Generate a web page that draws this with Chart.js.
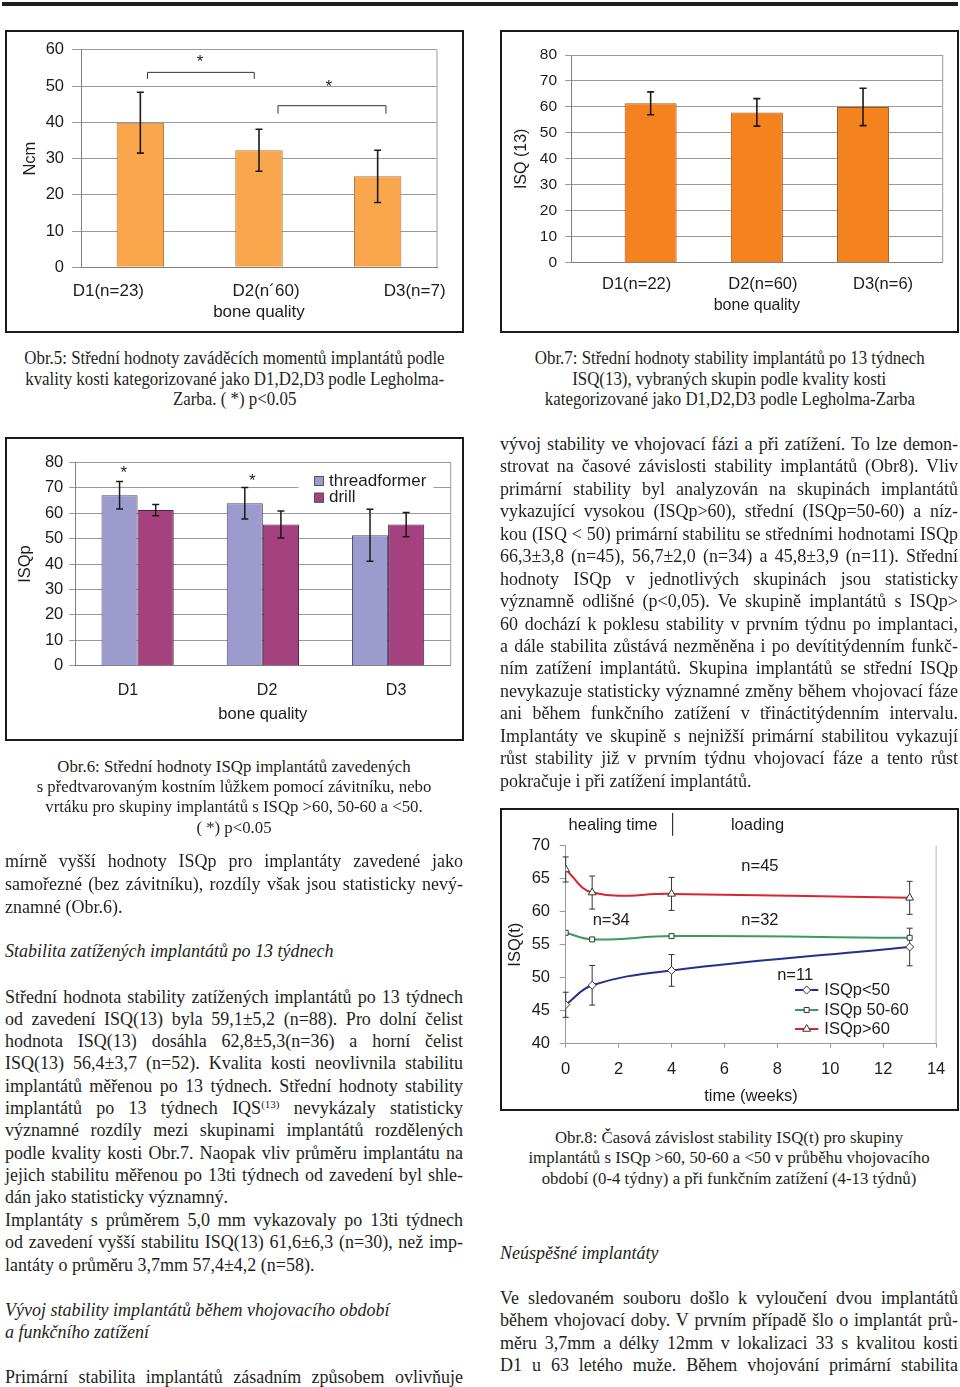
<!DOCTYPE html>
<html><head><meta charset="utf-8">
<script src="https://cdn.jsdelivr.net/npm/chart.js@4.4.1/dist/chart.umd.min.js"></script>
<style>
html,body{margin:0;padding:0;background:#fff;}
body{width:960px;height:1387px;position:relative;overflow:hidden;font-family:'Liberation Serif','Times New Roman',serif;color:#231f20;}
.rule{position:absolute;left:2px;top:2px;width:956px;height:4px;background:#1e1e1e;}
.box{position:absolute;border:2px solid #1a1a1a;background:#fff;box-sizing:border-box;}
.box canvas{position:absolute;left:0;top:0;}
.ln{position:absolute;white-space:nowrap;font-size:18px;line-height:22px;height:22px;}
.ln sup{font-size:11px;vertical-align:6px;line-height:0;}
.it{font-style:italic;}
.cap{font-size:16.8px;line-height:20px;height:20px;text-align:center;}
.cond{font-size:18.5px;line-height:20px;height:20px;text-align:center;}
.cond span{display:inline-block;transform:scaleX(0.912);}
</style>
</head>
<body>
<div class="rule"></div>
<div class="box" style="left:5px;top:30px;width:459px;height:303px;"><canvas id="c1" width="455" height="299"></canvas></div>
<div class="box" style="left:500px;top:30px;width:459px;height:303px;"><canvas id="c2" width="455" height="299"></canvas></div>
<div class="box" style="left:5px;top:437px;width:459px;height:304px;"><canvas id="c3" width="455" height="300"></canvas></div>
<div class="box" style="left:500px;top:808px;width:459px;height:303px;"><canvas id="c4" width="455" height="299"></canvas></div>
<script>
// ---------- DATA ----------
// Obr.5 insertion torque
const torqueCategories = ['D1(n=23)', 'D2(n´60)', 'D3(n=7)'];
const torqueMeans = [39.9, 32.3, 25.1];
const torqueErrors = [8.4, 5.8, 7.2];
const torqueAxisTitle = 'Ncm';
const torqueTicks = [0, 60, 10];
const torqueBracketFrom = [0.06, 1.16];
const torqueBracketTo = [0.96, 2.07];
const torqueBracketTop = [53.8, 44.6];
const torqueBracketLeg = [52.0, 42.4];
const torqueStarX = [0.503, 1.589];
const torqueStarY = [58.0, 51.1];

// Obr.7 ISQ(13)
const isq13Categories = ['D1(n=22)', 'D2(n=60)', 'D3(n=6)'];
const isq13Means = [61.4, 57.9, 60.0];
const isq13Errors = [4.4, 5.3, 7.2];
const isq13Ticks = [0, 80, 10];

// Obr.6 ISQp threadformer vs drill
const isqpCategories = ['D1', 'D2', 'D3'];
const seriesNames = ['threadformer', 'drill'];
const threadformerMeans = [67.0, 63.9, 51.3];
const threadformerErrors = [5.4, 6.2, 10.2];
const drillMeans = [61.2, 55.5, 55.5];
const drillErrors = [2.2, 5.3, 4.8];
const isqpStarX = [-0.11, 0.916];
const isqpStarY = [77.7, 74.4];

// Obr.8 ISQ(t)
const weeks = [0, 1, 4, 13];
const lineNames = ['ISQp<50', 'ISQp 50-60', 'ISQp>60'];
const isqLow = [45.9, 48.85, 51.1, 54.65];
const isqLowErr = [1.9, 3.0, 2.4, 2.85];
const isqMid = [56.8, 55.8, 56.3, 56.05];
const isqMidErr = [null, null, null, null];
const isqHigh = [66.4, 62.9, 62.7, 62.1];
const isqHighErr = [1.9, 2.5, 2.5, 2.5];
const noteTexts = ['healing time', 'loading', 'n=45', 'n=34', 'n=32', 'n=11'];
const noteX = [1.79, 7.25, 7.34, 1.72, 7.34, 8.67];
const noteY = [73.14, 73.14, 66.9, 58.6, 58.6, 50.4];
const dividerX = 4.04;
const dividerY = [71.5, 74.96];

// ---------- STYLE ----------
const SANS = "'Liberation Sans', Arial, sans-serif";
Chart.defaults.font.family = SANS;
Chart.defaults.color = '#1c1c1c';
Chart.defaults.animation = false;

function drawErrorBars(chart, o) {
  const ctx = chart.ctx, y = chart.scales.y;
  ctx.save(); ctx.strokeStyle = o.color; ctx.lineWidth = o.width;
  chart.data.datasets.forEach((ds, i) => {
    if (!ds.errors) return;
    chart.getDatasetMeta(i).data.forEach((el, j) => {
      const e = ds.errors[j]; if (e == null) return;
      const raw = ds.data[j]; const v = (typeof raw === 'object') ? raw.y : raw;
      const t = y.getPixelForValue(v + e), b = y.getPixelForValue(v - e);
      ctx.beginPath();
      ctx.moveTo(el.x, t); ctx.lineTo(el.x, b);
      ctx.moveTo(el.x - o.cap, t); ctx.lineTo(el.x + o.cap, t);
      ctx.moveTo(el.x - o.cap, b); ctx.lineTo(el.x + o.cap, b);
      ctx.stroke();
    });
  });
  ctx.restore();
}
const errorBars = {
  id: 'errorBars',
  beforeDatasetsDraw(c, a, o) { if (o.under) drawErrorBars(c, o); },
  afterDatasetsDraw(c, a, o) { if (!o.under) drawErrorBars(c, o); }
};
const xLabels = {
  id: 'xLabels',
  afterDraw(chart, a, o) {
    const ctx = chart.ctx, xs = chart.scales.x, ys = chart.scales.y;
    ctx.save(); ctx.font = o.font; ctx.fillStyle = o.color;
    ctx.textAlign = 'center'; ctx.textBaseline = 'middle';
    o.labels.forEach((lab, i) => ctx.fillText(lab, xs.getPixelForValue(i) + o.dx[i], ys.bottom + o.dy));
    ctx.restore();
  }
};
const frame = {
  id: 'frame',
  beforeDatasetsDraw(chart, a, o) {
    const {left, right, top, bottom} = chart.chartArea, ctx = chart.ctx;
    ctx.save(); ctx.strokeStyle = o.color; ctx.lineWidth = 1; ctx.beginPath();
    if (o.right) { ctx.moveTo(right, top); ctx.lineTo(right, bottom); }
    if (o.top) { ctx.moveTo(left, top); ctx.lineTo(right, top); }
    ctx.stroke(); ctx.restore();
  }
};
const stars = {
  id: 'stars',
  afterDraw(chart, a, o) {
    const ctx = chart.ctx, xs = chart.scales.x, ys = chart.scales.y;
    ctx.save(); ctx.font = o.size + 'px ' + SANS; ctx.fillStyle = '#1c1c1c';
    ctx.textAlign = 'center'; ctx.textBaseline = 'alphabetic';
    o.x.forEach((xv, i) => ctx.fillText('*', xs.getPixelForValue(xv), ys.getPixelForValue(o.y[i]) + 0.58 * o.size));
    ctx.restore();
  }
};
const brackets = {
  id: 'brackets',
  afterDraw(chart, a, o) {
    const ctx = chart.ctx, xs = chart.scales.x, ys = chart.scales.y;
    ctx.save(); ctx.strokeStyle = '#333'; ctx.lineWidth = 1;
    o.from.forEach((f, i) => {
      const x0 = xs.getPixelForValue(f), x1 = xs.getPixelForValue(o.to[i]);
      const yt = ys.getPixelForValue(o.top[i]), yl = ys.getPixelForValue(o.leg[i]);
      ctx.beginPath(); ctx.moveTo(x0, yl); ctx.lineTo(x0, yt); ctx.lineTo(x1, yt); ctx.lineTo(x1, yl); ctx.stroke();
    });
    ctx.restore();
  }
};
const boxLegend = {
  id: 'boxLegend',
  afterDraw(chart, a, o) {
    const ctx = chart.ctx;
    ctx.save();
    ctx.fillStyle = '#fff'; ctx.fillRect(o.clear[0], o.clear[1], o.clear[2], o.clear[3]);
    ctx.font = o.size + 'px ' + SANS; ctx.textBaseline = 'middle'; ctx.textAlign = 'left';
    chart.data.datasets.forEach((ds, i) => {
      const y = o.rows[i];
      ctx.fillStyle = ds.backgroundColor; ctx.strokeStyle = '#555'; ctx.lineWidth = 1;
      ctx.fillRect(o.sx, y - 5, 10, 10); ctx.strokeRect(o.sx + 0.5, y - 4.5, 9, 9);
      ctx.fillStyle = '#1c1c1c'; ctx.fillText(ds.label, o.tx, y);
    });
    ctx.restore();
  }
};
const lineLegend = {
  id: 'lineLegend',
  afterDraw(chart, a, o) {
    const ctx = chart.ctx;
    ctx.save(); ctx.font = o.size + 'px ' + SANS; ctx.textBaseline = 'middle'; ctx.textAlign = 'left';
    chart.data.datasets.forEach((ds, i) => {
      const y = o.rows[i];
      ctx.strokeStyle = ds.borderColor; ctx.lineWidth = 2;
      ctx.beginPath(); ctx.moveTo(o.x0, y); ctx.lineTo(o.x1, y); ctx.stroke();
      ctx.fillStyle = '#fff'; ctx.strokeStyle = '#333'; ctx.lineWidth = 1;
      Chart.helpers.drawPoint(ctx, {pointStyle: ds.pointStyle, radius: ds.pointRadius, rotation: 0, borderWidth: 1}, (o.x0 + o.x1) / 2, y);
      ctx.fillStyle = '#1c1c1c'; ctx.fillText(ds.label, o.tx, y);
    });
    ctx.restore();
  }
};
const notes = {
  id: 'notes',
  afterDraw(chart, a, o) {
    const ctx = chart.ctx, xs = chart.scales.x, ys = chart.scales.y;
    ctx.save(); ctx.font = o.size + 'px ' + SANS; ctx.fillStyle = '#1c1c1c';
    ctx.textAlign = 'center'; ctx.textBaseline = 'middle';
    o.texts.forEach((t, i) => ctx.fillText(t, xs.getPixelForValue(o.x[i]), ys.getPixelForValue(o.y[i])));
    ctx.strokeStyle = '#333'; ctx.lineWidth = 1.2; ctx.beginPath();
    const dx = xs.getPixelForValue(o.divX);
    ctx.moveTo(dx, ys.getPixelForValue(o.divY[0])); ctx.lineTo(dx, ys.getPixelForValue(o.divY[1])); ctx.stroke();
    ctx.restore();
  }
};

const GRID = '#9a9a9a', AXIS = '#808080';

// ---------- Obr.5 ----------
new Chart(document.getElementById('c1'), {
  type: 'bar',
  data: { labels: torqueCategories, datasets: [{
    data: torqueMeans, errors: torqueErrors,
    backgroundColor: '#F9A64C', borderColor: '#A8733C', borderWidth: 1,
    barPercentage: 0.4, categoryPercentage: 1 }] },
  options: {
    responsive: false, animation: false,
    layout: { padding: { top: 17.3, right: 25, left: 0, bottom: 0 } },
    plugins: {
      legend: { display: false }, tooltip: { enabled: false },
      errorBars: { color: '#1a1a1a', width: 1.6, cap: 3.5 },
      xLabels: { labels: torqueCategories, dx: [-32, 7, 37], dy: 23.7, font: '17px ' + SANS, color: '#1c1c1c' },
      frame: { color: GRID, right: true },
      stars: { x: torqueStarX, y: torqueStarY, size: 17 },
      brackets: { from: torqueBracketFrom, to: torqueBracketTo, top: torqueBracketTop, leg: torqueBracketLeg }
    },
    scales: {
      x: { grid: { display: false }, border: { color: AXIS }, ticks: { display: false },
           title: { display: true, text: 'bone quality', font: { size: 17 }, padding: { top: 0, bottom: 8.8 } },
           afterFit: s => { s.height = 63.7; } },
      y: { min: torqueTicks[0], max: torqueTicks[1], ticks: { stepSize: torqueTicks[2], font: { size: 16.5 }, padding: 8 },
           grid: { color: GRID, tickLength: 9 }, border: { color: AXIS },
           title: { display: true, text: torqueAxisTitle, font: { size: 16.5 }, padding: { top: 13.1, bottom: 0 } },
           afterFit: s => { s.width = 74; } }
    }
  },
  plugins: [frame, errorBars, xLabels, stars, brackets]
});

// ---------- Obr.7 ----------
new Chart(document.getElementById('c2'), {
  type: 'bar',
  data: { datasets: [{
    data: isq13Means.map((v, i) => ({ x: i, y: v })), errors: isq13Errors,
    backgroundColor: '#F4821F', borderColor: '#A5561B', borderWidth: 1,
    barPercentage: 0.49, categoryPercentage: 1 }] },
  options: {
    responsive: false, animation: false,
    layout: { padding: { top: 23, right: 14.3, left: 0, bottom: 0 } },
    plugins: {
      legend: { display: false }, tooltip: { enabled: false },
      errorBars: { color: '#1a1a1a', width: 1.6, cap: 3.5 },
      xLabels: { labels: isq13Categories, dx: [-14, 6, 20], dy: 21.3, font: '16.5px ' + SANS, color: '#1c1c1c' },
      frame: { color: GRID, right: true }
    },
    scales: {
      x: { type: 'linear', offset: false, min: -0.75, max: 2.75, grid: { display: false }, border: { color: AXIS }, ticks: { display: false },
           afterBuildTicks: s => { s.ticks = isq13Categories.map((c, i) => ({ value: i })); },
           title: { display: true, text: 'bone quality', font: { size: 16 }, padding: { top: 0, bottom: 15.4 } },
           afterFit: s => { s.height = 68.3; } },
      y: { min: isq13Ticks[0], max: isq13Ticks[1], ticks: { stepSize: isq13Ticks[2], font: { size: 15.5 }, padding: 8 },
           grid: { color: GRID, tickLength: 6 }, border: { color: AXIS },
           title: { display: true, text: 'ISQ (13)', font: { size: 16 }, padding: { top: 10.1, bottom: 0 } },
           afterFit: s => { s.width = 69; } }
    }
  },
  plugins: [frame, errorBars, xLabels]
});

// ---------- Obr.6 ----------
new Chart(document.getElementById('c3'), {
  type: 'bar',
  data: { labels: isqpCategories, datasets: [
    { label: seriesNames[0], data: threadformerMeans, errors: threadformerErrors,
      backgroundColor: '#9D9BCE', borderColor: '#4f4568', borderWidth: 1, barPercentage: 1, categoryPercentage: 0.577 },
    { label: seriesNames[1], data: drillMeans, errors: drillErrors,
      backgroundColor: '#A5417E', borderColor: '#4f2340', borderWidth: 1, barPercentage: 1, categoryPercentage: 0.577 }
  ] },
  options: {
    responsive: false, animation: false,
    layout: { padding: { top: 23.3, right: 11.3, left: 0, bottom: 0 } },
    plugins: {
      legend: { display: false }, tooltip: { enabled: false },
      errorBars: { color: '#1a1a1a', width: 1.5, cap: 3.5 },
      xLabels: { labels: isqpCategories, dx: [-9.6, 4.2, 8], dy: 25.3, font: '16px ' + SANS, color: '#1c1c1c' },
      frame: { color: GRID, right: true },
      stars: { x: isqpStarX, y: isqpStarY, size: 17 },
      boxLegend: { clear: [291.5, 30, 135, 38], sx: 307, tx: 322, rows: [42, 58.7], size: 17 }
    },
    scales: {
      x: { grid: { display: false }, border: { color: AXIS }, ticks: { display: false },
           title: { display: true, text: 'bone quality', font: { size: 16.5 }, padding: { top: 0, bottom: 15.1 } },
           afterFit: s => { s.height = 73.3; } },
      y: { min: 0, max: 80, ticks: { stepSize: 10, font: { size: 16.5 }, padding: 5.7 },
           grid: { color: GRID, tickLength: 6 }, border: { color: AXIS },
           title: { display: true, text: 'ISQp', font: { size: 16.5 }, padding: { top: 8.9, bottom: 0 } },
           afterFit: s => { s.width = 68; } }
    }
  },
  plugins: [frame, errorBars, xLabels, stars, boxLegend]
});

// ---------- Obr.8 ----------
function pts(arr) { return weeks.map((w, i) => ({ x: w, y: arr[i] })); }
const lineCommon = { borderWidth: 2, tension: 0.4, fill: false, pointBackgroundColor: '#fff', pointBorderColor: '#333', pointBorderWidth: 1 };
new Chart(document.getElementById('c4'), {
  type: 'line',
  data: { datasets: [
    Object.assign({ label: lineNames[0], data: pts(isqLow), errors: isqLowErr, borderColor: '#22318F', pointStyle: 'rectRot', pointRadius: 4 }, lineCommon),
    Object.assign({ label: lineNames[1], data: pts(isqMid), errors: isqMidErr, borderColor: '#3C9B5C', pointStyle: 'rect', pointRadius: 3.5 }, lineCommon),
    Object.assign({ label: lineNames[2], data: pts(isqHigh), errors: isqHighErr, borderColor: '#D9262E', pointStyle: 'triangle', pointRadius: 4.5 }, lineCommon)
  ] },
  options: {
    responsive: false, animation: false,
    layout: { padding: { top: 35.7, right: 11.3, left: 0, bottom: 0 } },
    plugins: {
      legend: { display: false }, tooltip: { enabled: false },
      errorBars: { color: '#333', width: 1, cap: 3, under: true },
      frame: { color: '#b5b5b5', right: true },
      lineLegend: { x0: 293, x1: 316.3, tx: 322.3, rows: [180, 200, 219], size: 16.5 },
      notes: { texts: noteTexts, x: noteX, y: noteY, size: 16.5, divX: dividerX, divY: dividerY }
    },
    scales: {
      x: { type: 'linear', min: 0, max: 14, ticks: { stepSize: 2, font: { size: 16.5 }, padding: 11.7 },
           grid: { drawOnChartArea: false, tickLength: 4, color: '#999' }, border: { color: '#999' },
           title: { display: true, text: 'time (weeks)', font: { size: 16.5 }, padding: { top: 0, bottom: 3.1 } },
           afterFit: s => { s.height = 65.3; } },
      y: { min: 40, max: 70, ticks: { stepSize: 5, font: { size: 16.5 }, padding: 9.7 },
           grid: { drawOnChartArea: false, tickLength: 6, color: '#999' }, border: { color: '#999' },
           title: { display: true, text: 'ISQ(t)', font: { size: 16.5 }, padding: { top: 3.1, bottom: 0 } },
           afterFit: s => { s.width = 63.7; } }
    }
  },
  plugins: [frame, errorBars, lineLegend, notes]
});

// ---------- TEXT ----------
function addLine(txt, x, yc, o) {
  const d = document.createElement('div');
  d.className = 'ln ' + (o.cls || '');
  d.style.left = x + 'px'; d.style.top = (yc - o.off) + 'px';
  if (o.w) d.style.width = o.w + 'px';
  const s = document.createElement('span');
  txt.split('^').forEach((part, k) => {
    if (k % 2) { const sup = document.createElement('sup'); sup.textContent = part; s.appendChild(sup); }
    else s.appendChild(document.createTextNode(part));
  });
  d.appendChild(s); document.body.appendChild(d);
  if (o.justify) {
    const n = (s.textContent.trim().replace(/\s+/g, ' ').match(/ /g) || []).length;
    const nat = s.getBoundingClientRect().width;
    if (n) s.style.wordSpacing = ((o.w - nat) / n) + 'px';
  }
}
function column(x, lines) {
  lines.forEach(l => addLine(l[0], x, l[1], { off: 11, w: 458, justify: l[2] === 1, cls: l[2] === 2 ? 'it' : '' }));
}
function caption(cx, lines, cls, off) {
  lines.forEach(l => addLine(l[0], cx - 350, l[1], { off: off, w: 700, cls: cls }));
}
caption(234.5, [
  ['Obr.5: Střední hodnoty zaváděcích momentů implantátů podle', 358],
  ['kvality kosti kategorizované jako D1,D2,D3 podle Legholma-', 379],
  ['Zarba. ( *) p<0.05', 399]], 'cond', 10);
caption(729.5, [
  ['Obr.7: Střední hodnoty stability implantátů po 13 týdnech', 358],
  ['ISQ(13), vybraných skupin  podle kvality kosti', 379],
  ['kategorizované jako D1,D2,D3 podle Legholma-Zarba', 399]], 'cond', 10);
caption(234, [
  ['Obr.6: Střední hodnoty ISQp implantátů zavedených', 767],
  ['s předtvarovaným kostním lůžkem pomocí závitníku, nebo', 787],
  ['vrtáku pro skupiny implantátů s ISQp >60, 50-60 a <50.', 807],
  ['( *) p<0.05', 828]], 'cap', 10);
caption(729, [
  ['Obr.8: Časová závislost stability ISQ(t) pro skupiny', 1137],
  ['implantátů s ISQp >60, 50-60 a <50 v průběhu vhojovacího', 1157],
  ['období (0-4 týdny) a při funkčním zatížení (4-13 týdnů)', 1178]], 'cap', 9.5);

column(5, [
  ['mírně vyšší hodnoty ISQp pro implantáty zavedené jako', 861, 1],
  ['samořezné (bez závitníku), rozdíly však jsou statisticky nevý-', 884, 1],
  ['znamné (Obr.6).', 907, 0],
  ['Stabilita zatížených  implantátů po 13 týdnech', 951, 2],
  ['Střední hodnota stability zatížených implantátů po 13 týdnech', 997, 1],
  ['od zavedení ISQ(13) byla 59,1±5,2 (n=88). Pro dolní čelist', 1019, 1],
  ['hodnota ISQ(13) dosáhla 62,8±5,3(n=36) a horní čelist', 1041, 1],
  ['ISQ(13) 56,4±3,7 (n=52). Kvalita kosti neovlivnila stabilitu', 1063, 1],
  ['implantátů měřenou po 13 týdnech. Střední hodnoty stability', 1086, 1],
  ['implantátů po 13 týdnech IQS^(13)^ nevykázaly statisticky', 1108, 1],
  ['významné rozdíly mezi skupinami implantátů rozdělených', 1130, 1],
  ['podle kvality kosti Obr.7. Naopak vliv průměru implantátu na', 1153, 1],
  ['jejich stabilitu měřenou po 13ti týdnech od zavedení byl shle-', 1175, 1],
  ['dán jako statisticky významný.', 1197, 0],
  ['Implantáty s průměrem 5,0 mm vykazovaly po 13ti týdnech', 1220, 1],
  ['od zavedení vyšší stabilitu ISQ(13) 61,6±6,3 (n=30), než imp-', 1242, 1],
  ['lantáty o průměru 3,7mm 57,4±4,2  (n=58).', 1265, 0],
  ['Vývoj stability implantátů během vhojovacího období', 1310, 2],
  ['a funkčního zatížení', 1332, 2],
  ['Primární stabilita implantátů zásadním způsobem ovlivňuje', 1377, 1]
]);
column(500, [
  ['vývoj stability ve vhojovací fázi a při zatížení. To lze demon-', 444, 1],
  ['strovat na časové závislosti stability implantátů (Obr8). Vliv', 466, 1],
  ['primární stability byl analyzován na skupinách implantátů', 489, 1],
  ['vykazující vysokou (ISQp>60), střední (ISQp=50-60) a níz-', 511, 1],
  ['kou (ISQ < 50) primární stabilitu se středními hodnotami ISQp', 534, 1],
  ['66,3±3,8 (n=45), 56,7±2,0 (n=34) a 45,8±3,9 (n=11). Střední', 556, 1],
  ['hodnoty ISQp v jednotlivých skupinách jsou statisticky', 579, 1],
  ['významně  odlišné (p<0,05). Ve skupině implantátů s ISQp>', 601, 1],
  ['60 dochází k  poklesu stability v prvním týdnu po implantaci,', 624, 1],
  ['a dále stabilita zůstává nezměněna i po devítitýdenním funkč-', 646, 1],
  ['ním zatížení implantátů. Skupina implantátů se střední ISQp', 668, 1],
  ['nevykazuje statisticky významné změny během vhojovací fáze', 691, 1],
  ['ani během funkčního zatížení v třináctitýdenním intervalu.', 713, 1],
  ['Implantáty ve skupině s nejnižší primární stabilitou vykazují', 736, 1],
  ['růst stability již v prvním týdnu vhojovací fáze a tento růst', 758, 1],
  ['pokračuje i při zatížení implantátů.', 781, 0],
  ['Neúspěšné implantáty', 1253, 2],
  ['Ve sledovaném souboru došlo k vyloučení dvou implantátů', 1298, 1],
  ['během vhojovací doby. V prvním případě šlo o implantát prů-', 1320, 1],
  ['měru 3,7mm a délky 12mm v  lokalizaci 33 s kvalitou kosti', 1343, 1],
  ['D1 u 63 letého muže. Během vhojování primární stabilita', 1365, 1]
]);
</script>
</body></html>
